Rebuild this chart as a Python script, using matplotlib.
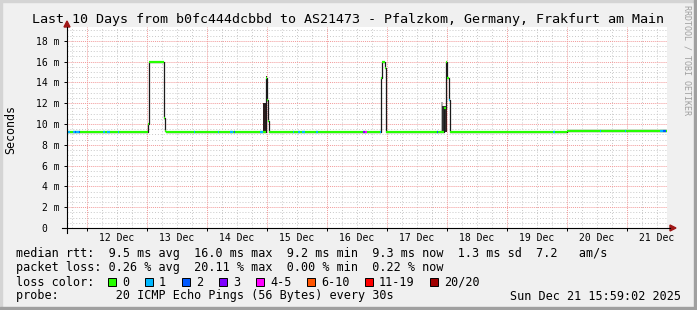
import matplotlib
matplotlib.use("Agg")
import matplotlib.pyplot as plt
import numpy as np
from matplotlib.patches import Rectangle, Polygon
from matplotlib.lines import Line2D

W, H = 697, 310
MONO = "DejaVu Sans Mono"

# x is the day of December 2025, y is the rtt in ms
t_start, t_end = 11.666, 21.666
day_ticks = [12, 13, 14, 15, 16, 17, 18, 19, 20, 21]
day_labels = ["12 Dec", "13 Dec", "14 Dec", "15 Dec", "16 Dec",
              "17 Dec", "18 Dec", "19 Dec", "20 Dec", "21 Dec"]
y_ticks = [0, 2, 4, 6, 8, 10, 12, 14, 16, 18]
y_labels = ["0  ", "2 m", "4 m", "6 m", "8 m", "10 m", "12 m", "14 m", "16 m", "18 m"]

# median rtt, step start (day) and value (ms)
step_day = [11.666, 13.017, 13.033, 13.275, 13.300, 13.310,
            14.983, 15.000, 15.012, 15.025,
            16.900, 16.917, 16.967, 16.990,
            17.950, 17.975, 18.000, 18.025, 18.042,
            20.000, 20.400, 20.800, 21.300]
step_ms = [9.20, 10.0, 16.0, 10.6, 9.30, 9.20,
           14.4, 12.3, 10.3, 9.20,
           14.4, 16.0, 15.4, 9.20,
           11.5, 16.0, 14.4, 12.3, 9.20,
           9.34, 9.30, 9.36, 9.33]

# samples with packet loss (drawn in the loss colour)
loss_start = [11.666, 11.767, 11.800, 11.820, 11.870, 12.267, 12.330, 12.517,
              13.783, 14.183, 14.383, 14.450, 14.883, 15.433, 15.517, 15.583,
              15.817, 16.600, 16.633, 16.883, 17.833, 18.025, 19.767, 20.550,
              20.967, 21.550, 21.600]
loss_end = [11.717, 11.800, 11.820, 11.870, 11.883, 12.300, 12.383, 12.533,
            13.800, 14.200, 14.430, 14.467, 14.925, 15.450, 15.550, 15.633,
            15.850, 16.633, 16.667, 16.900, 17.850, 18.042, 19.800, 20.567,
            20.983, 21.600, 21.650]
loss_level = ["1", "1", "2", "1", "2", "1", "1", "1",
              "1", "1", "1", "2", "1", "1", "1", "1",
              "1", "3", "4-5", "1", "2", "1", "1", "1",
              "1", "1", "2"]

# smoke (spread of the single pings)
smoke_start = [13.995, 14.925, 14.975, 17.900, 17.910, 17.975, 20.000, 20.030]
smoke_end = [14.005, 14.975, 14.995, 17.930, 17.975, 18.000, 21.666, 20.040]
smoke_lo = [9.2, 9.2, 9.2, 9.2, 9.2, 9.2, 9.3, 9.4]
smoke_hi = [14.4, 12.0, 14.6, 12.1, 11.7, 16.0, 9.55, 10.6]
smoke_col = ["#d8c0c0", "#2b1d1d", "#3a1a1a", "#b0b0b0", "#303030", "#3a1a1a",
             "#dcdcdc", "#c8c8c8"]

legend_keys = ["0", "1", "2", "3", "4-5", "6-10", "11-19", "20/20"]
legend_cols = ["#26ff00", "#00b8ff", "#0059ff", "#7e00ff", "#ff00ff",
               "#ff5500", "#ff0000", "#a00000"]
loss_color = dict(zip(legend_keys, legend_cols))

title = "Last 10 Days from b0fc444dcbbd to AS21473 - Pfalzkom, Germany, Frakfurt am Main"
line_rtt = "median rtt:  9.5 ms avg  16.0 ms max  9.2 ms min  9.3 ms now  1.3 ms sd  7.2   am/s"
line_loss = "packet loss: 0.26 % avg  20.11 % max  0.00 % min  0.22 % now"
line_probe = "probe:        20 ICMP Echo Pings (56 Bytes) every 30s"
stamp = "Sun Dec 21 15:59:02 2025"


def fx(x):
    return x / W


def fy(y):
    return 1 - y / H


fig = plt.figure(figsize=(W / 100, H / 100), dpi=100, facecolor="#f0f0f0")
ax = fig.add_axes([fx(67), fy(228), 600 / W, 201 / H])
ax.set_facecolor("white")
ax.set_xlim(t_start, t_end)
ax.set_ylim(0, 19.33)
for s in ax.spines.values():
    s.set_visible(False)

# grid
for v in np.arange(0.5, 19.3, 0.5):
    if v % 2:
        ax.axhline(v, color="#c8c8c8", lw=0.7, ls=(0, (1, 2)), zorder=0.5)
for v in y_ticks[1:]:
    ax.axhline(v, color="#f29a9a", lw=0.7, ls=(0, (1, 1)), zorder=0.6)
for v in np.arange(11.75, t_end, 0.25):
    if abs(v - round(v)) > 0.01:
        ax.axvline(v, color="#c8c8c8", lw=0.7, ls=(0, (1, 2)), zorder=0.5)
for v in day_ticks:
    ax.axvline(v, color="#f29a9a", lw=0.7, ls=(0, (1, 1)), zorder=0.6)

# smoke
for s, e, lo, hi, c in zip(smoke_start, smoke_end, smoke_lo, smoke_hi, smoke_col):
    ax.fill_between([s, e], lo, hi, color=c, lw=0, zorder=1)

# median line
ends = step_day[1:] + [t_end]
ax.step(step_day + [t_end], step_ms + [step_ms[-1]], where="post",
        color="#1a1a1a", lw=0.9, zorder=2)
ax.hlines(step_ms, step_day, ends, colors=loss_color["0"], lw=1.6, zorder=3)
for s, e, lv in zip(loss_start, loss_end, loss_level):
    i = np.searchsorted(step_day, s + 1e-6, side="right") - 1
    ax.hlines(step_ms[i], s, e, colors=loss_color[lv], lw=1.6, zorder=4)

# ticks and labels
ax.set_yticks(y_ticks)
ax.set_yticklabels(y_labels, fontfamily=MONO, fontsize=7)
ax.set_xticks(day_ticks)
ax.set_xticklabels([])
ax.tick_params(axis="both", length=2.2, width=0.7, color="#000000", pad=3)
for d, lab in zip(day_ticks, day_labels):
    ax.text(d + 0.5, -10 / 201, lab, transform=ax.get_xaxis_transform(),
            ha="center", va="center", fontfamily=MONO, fontsize=7)

# axes with arrows
fig.add_artist(Line2D([fx(67), fx(67)], [fy(233), fy(27)], color="black", lw=0.8))
fig.add_artist(Line2D([fx(62), fx(670)], [fy(228), fy(228)], color="black", lw=0.8))
fig.add_artist(Polygon([[fx(64), fy(27)], [fx(70), fy(27)], [fx(67), fy(21)]],
                       closed=True, color="#a01818", transform=fig.transFigure))
fig.add_artist(Polygon([[fx(670), fy(225)], [fx(670), fy(231)], [fx(676), fy(228)]],
                       closed=True, color="#a01818", transform=fig.transFigure))

# texts
fig.text(0.5, fy(19), title, ha="center", va="center", fontfamily=MONO, fontsize=9.6)
fig.text(fx(11), fy(129), "Seconds", rotation=90, ha="center", va="center",
         fontfamily=MONO, fontsize=8.4)
fig.text(fx(687), fy(60), "RRDTOOL / TOBI OETIKER", rotation=270, ha="center",
         va="center", fontfamily=MONO, fontsize=6, color="#a0a0a0")
fig.text(fx(16), fy(254), line_rtt, va="center", fontfamily=MONO, fontsize=8.5)
fig.text(fx(16), fy(268), line_loss, va="center", fontfamily=MONO, fontsize=8.5)
fig.text(fx(16), fy(282), "loss color:", va="center", fontfamily=MONO, fontsize=8.5)
fig.text(fx(16), fy(296), line_probe, va="center", fontfamily=MONO, fontsize=8.5)
fig.text(fx(681), fy(296), stamp, ha="right", va="center", fontfamily=MONO, fontsize=8.5)

bx = 108
for k, c in zip(legend_keys, legend_cols):
    fig.add_artist(Rectangle((fx(bx), fy(286)), 8 / W, 8 / H, facecolor=c,
                             edgecolor="black", lw=0.7, transform=fig.transFigure))
    fig.text(fx(bx + 14), fy(282), k, va="center", fontfamily=MONO, fontsize=8.5)
    bx += 37 + 7 * (len(k) - 1)

# 3d frame
fig.add_artist(Rectangle((0, fy(2)), 1, 2 / H, color="#d4d4d4", transform=fig.transFigure))
fig.add_artist(Rectangle((0, 0), 2 / W, 1, color="#d4d4d4", transform=fig.transFigure))
fig.add_artist(Rectangle((fx(694), 0), 3 / W, 1, color="#a0a0a0", transform=fig.transFigure))
fig.add_artist(Rectangle((0, 0), 1, 3 / H, color="#a0a0a0", transform=fig.transFigure))

fig.savefig("out.png", dpi=100, facecolor=fig.get_facecolor())
